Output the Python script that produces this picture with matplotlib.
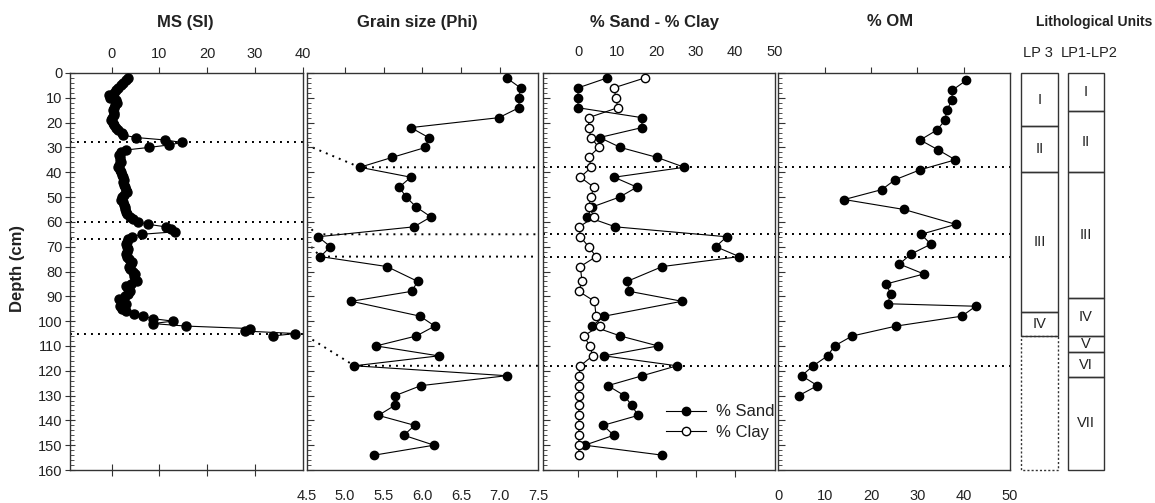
import numpy as np
import matplotlib.pyplot as plt
from matplotlib.patches import Rectangle

plt.rcParams['font.family'] = ['Liberation Sans', 'DejaVu Sans']
plt.rcParams['text.color'] = '#222222'
plt.rcParams['xtick.color'] = '#333333'
plt.rcParams['ytick.color'] = '#333333'
plt.rcParams['xtick.labelcolor'] = '#222222'
plt.rcParams['ytick.labelcolor'] = '#222222'

# ---- data ----
# magnetic susceptibility, one sample per cm
ms_depth = list(range(2, 107))
ms_si = [3.4, 3.0, 2.4, 1.9, 1.4, 1.0, 0.4, -0.6, -0.3, 0.9,
         1.1, 0.8, 0.6, 0.3, 0.5, 0.4, 0.0, -0.1, 0.3, 0.6,
         0.9, 1.3, 2.1, 2.3, 5.1, 11.2, 14.7, 12.0, 7.8, 3.1,
         2.0, 1.6, 1.8, 1.7, 1.9, 1.5, 1.4, 1.8, 2.0, 2.2,
         2.3, 2.5, 2.4, 2.6, 2.8, 3.0, 3.2, 2.5, 2.2, 1.9,
         2.4, 2.6, 2.8, 2.9, 3.1, 3.3, 3.8, 4.5, 5.5, 7.7,
         11.3, 12.4, 13.3, 6.3, 4.2, 3.4, 3.2, 3.0, 3.3, 3.4,
         3.2, 3.1, 3.3, 3.6, 4.2, 4.0, 3.7, 3.9, 4.4, 4.9,
         4.6, 4.8, 5.2, 4.1, 3.1, 3.5, 3.8, 3.4, 2.8, 1.6,
         2.4, 3.1, 1.7, 2.2, 3.1, 4.7, 6.5, 8.6, 12.8, 8.6,
         15.6, 29.0, 27.9, 38.4, 33.7]

# grain size and texture samples
core_depth = [2, 6, 10, 14, 18, 22, 26, 30, 34, 38, 42, 46, 50, 54, 58, 62, 66, 70, 74,
              78, 84, 88, 92, 98, 102, 106, 110, 114, 118, 122, 126, 130, 134, 138, 142,
              146, 150, 154]
grain_phi = [7.09, 7.27, 7.25, 7.25, 6.99, 5.85, 6.08, 6.04, 5.61, 5.19, 5.85, 5.70,
             5.79, 5.92, 6.11, 5.89, 4.65, 4.81, 4.68, 5.54, 5.94, 5.86, 5.08, 5.97,
             6.16, 5.92, 5.40, 6.21, 5.12, 7.09, 5.98, 5.65, 5.64, 5.43, 5.90, 5.76,
             6.15, 5.38]
sand_pct = [7.4, 0, 0, 0, 16.3, 16.3, 5.5, 10.8, 20.1, 27.1, 9.2, 15.0, 10.6, 3.6, 2.3,
            9.5, 37.9, 35.1, 41.1, 21.5, 12.5, 13.1, 26.5, 6.7, 3.6, 10.8, 20.4, 6.7,
            25.2, 16.4, 7.6, 11.8, 13.7, 15.3, 6.4, 9.1, 1.7, 21.4]
clay_pct = [17.0, 9.1, 9.7, 10.1, 2.7, 2.7, 3.3, 5.3, 2.7, 3.4, 0.6, 4.0, 3.3, 2.7, 4.2,
            0.3, 0.6, 2.7, 4.6, 0.6, 1.0, 0.2, 4.2, 4.6, 5.5, 1.4, 3.1, 3.7, 0.6,
            0.2, 0.2, 0.2, 0.2, 0.2, 0.2, 0.2, 0.2, 0.2]

# organic matter
om_depth = [3, 7, 11, 15, 19, 23, 27, 31, 35, 39, 43, 47, 51, 55, 61, 65, 69, 73, 77,
            81, 85, 89, 93, 94, 98, 102, 106, 110, 114, 118, 122, 126, 130]
om_pct = [40.5, 37.5, 37.5, 36.3, 36.0, 34.2, 30.6, 34.5, 38.2, 30.6, 25.2, 22.3, 14.2,
          27.1, 38.3, 30.8, 32.9, 28.6, 26.1, 31.4, 23.3, 24.2, 23.6, 42.6, 39.6, 25.4,
          15.9, 12.1, 10.6, 7.5, 5.0, 8.4, 4.4]

# boundaries (dotted lines)
ms_bounds = [28, 60, 67, 105]
core_bounds = [38, 65, 74, 118]
grain_kink = [5.19, 4.63, 4.68, 5.12]

# lithological units
lp3_edges = [0, 21.5, 40, 96.5, 106]
lp3_units = ['I', 'II', 'III', 'IV']
lp12_edges = [0, 15.5, 40, 90.5, 106, 112.5, 122.5, 160]
lp12_units = ['I', 'II', 'III', 'IV', 'V', 'VI', 'VII']

W, H = 1155, 503
fig = plt.figure(figsize=(W / 100, H / 100), dpi=100)
TOP, BOT = 73, 470
dot = dict(ls=(0, (1, 2.6)), lw=1.4, color='k', zorder=1)
lc = '#333333'


def px_axes(x0, x1):
    return fig.add_axes([x0 / W, 1 - BOT / H, (x1 - x0) / W, (BOT - TOP) / H])


def base(ax, left_labels=False):
    ax.set_ylim(160, 0)
    ax.set_yticks(np.arange(0, 161, 10))
    ax.set_yticks(np.arange(0, 161, 2), minor=True)
    for s in ax.spines.values():
        s.set_color(lc)
        s.set_linewidth(1)
    if left_labels:
        ax.tick_params(axis='y', which='major', direction='inout', length=7, pad=2,
                       labelsize=10.5)
    else:
        ax.tick_params(axis='y', which='major', direction='in', length=5, labelleft=False)
    ax.tick_params(axis='y', which='minor', direction='in', length=3)
    ax.tick_params(axis='y', right=False, which='both')


def style_line(ax, x, y, **kw):
    ax.plot(x, y, '-o', color='k', lw=0.8, ms=6, mfc='k', mec='k', zorder=3, **kw)


# ---- panel 1: MS ----
ax1 = px_axes(70, 303)
base(ax1, left_labels=True)
ax1.set_xlim(-8.7, 40)
ax1.xaxis.set_ticks_position('top')
ax1.set_xticks([0, 10, 20, 30, 40])
ax1.tick_params(axis='x', direction='out', length=4, pad=5, labelsize=10.5)
sec = ax1.secondary_xaxis('bottom')
sec.set_xticks([0, 10, 20, 30])
sec.tick_params(direction='inout', length=9, labelbottom=False, color=lc)
sec.spines['bottom'].set_visible(False)
ax1.plot(ms_si, ms_depth, '-o', color='k', lw=0.8, ms=6.5, zorder=3)
for b in ms_bounds:
    ax1.plot([-8.7, 40], [b, b], **dot)

# ---- panel 2: grain size ----
ax2 = px_axes(306.5, 538.3)
base(ax2)
ax2.set_xlim(4.5, 7.5)
ax2.set_xticks(np.arange(4.5, 7.51, 0.5))
ax2.set_xticklabels([f'{v:.1f}' for v in np.arange(4.5, 7.51, 0.5)])
ax2.tick_params(axis='x', length=0, pad=14, labelsize=10.5)
sec = ax2.secondary_xaxis('top')
sec.set_xticks([5.0, 5.5, 6.0, 6.5, 7.0])
sec.tick_params(direction='out', length=4, labeltop=False, color=lc)
sec.spines['top'].set_visible(False)
style_line(ax2, grain_phi, core_depth)
for b0, b1, k in zip(ms_bounds, core_bounds, grain_kink):
    ax2.plot([4.5, k, 7.5], [b0 + 1, b1, b1], **dot)

# ---- panel 3: sand / clay ----
ax3 = px_axes(542.7, 775)
base(ax3)
ax3.set_xlim(-9, 50.2)
ax3.xaxis.set_ticks_position('top')
ax3.set_xticks([0, 10, 20, 30, 40, 50])
ax3.tick_params(axis='x', length=0, pad=10, labelsize=10.5)
sec = ax3.secondary_xaxis('bottom')
sec.set_xticks([0, 10, 20, 30, 40])
sec.tick_params(direction='out', length=5, labelbottom=False, color=lc)
sec.spines['bottom'].set_visible(False)
style_line(ax3, sand_pct, core_depth, label='% Sand')
ax3.plot(clay_pct, core_depth, '-o', color='k', lw=0.8, ms=6, mfc='white', mec='k',
         zorder=3, label='% Clay')
for b in core_bounds:
    ax3.plot([-9, 50.2], [b, b], **dot)
ax3.legend(loc='center left', bbox_to_anchor=(0.465, 0.12), frameon=False, fontsize=12,
           handlelength=2.4, handletextpad=0.6, labelspacing=0.35)

# ---- panel 4: OM ----
ax4 = px_axes(778.5, 1010)
base(ax4)
ax4.set_xlim(0, 50)
ax4.set_xticks([0, 10, 20, 30, 40, 50])
ax4.tick_params(axis='x', length=0, pad=14, labelsize=10.5)
sec = ax4.secondary_xaxis('top')
sec.set_xticks([10, 20, 30, 40])
sec.tick_params(direction='out', length=4, labeltop=False, color=lc)
sec.spines['top'].set_visible(False)
style_line(ax4, om_pct, om_depth)
for b in core_bounds:
    ax4.plot([0, 50], [b, b], **dot)

# ---- lithological units ----
axl = px_axes(1012, 1115)
axl.set_xlim(1012, 1115)
axl.set_ylim(160, 0)
axl.axis('off')


def column(x0, x1, edges, units):
    for top, bot, name in zip(edges[:-1], edges[1:], units):
        axl.add_patch(Rectangle((x0, top), x1 - x0, bot - top, fill=False, ec=lc, lw=1,
                                clip_on=False))
        axl.text((x0 + x1) / 2, (top + bot) / 2, name, ha='center', va='center',
                 fontsize=10.5)


column(1021, 1057.7, lp3_edges, lp3_units)
axl.add_patch(Rectangle((1021, lp3_edges[-1]), 36.7, 160 - lp3_edges[-1], fill=False,
                        ec=lc, lw=1, ls=(0, (1.5, 1.5)), clip_on=False))
column(1067.7, 1104.3, lp12_edges, lp12_units)

# ---- titles ----
def ftext(x, y, s, **kw):
    fig.text(x / W, 1 - y / H, s, ha='center', va='center', **kw)


ftext(185, 22, 'MS (SI)', fontsize=12, fontweight='bold')
ftext(417, 22, 'Grain size (Phi)', fontsize=12, fontweight='bold')
ftext(654, 22, '% Sand - % Clay', fontsize=12, fontweight='bold')
ftext(890, 22, '% OM', fontsize=12, fontweight='bold')
ftext(1094, 22, 'Lithological Units', fontsize=10, fontweight='bold')
ftext(1038, 53, 'LP 3', fontsize=10.5)
ftext(1089, 53, 'LP1-LP2', fontsize=10.5)
ftext(18, 268, 'Depth (cm)', fontsize=12, fontweight='bold', rotation=90)

fig.savefig('out.png', dpi=100)
